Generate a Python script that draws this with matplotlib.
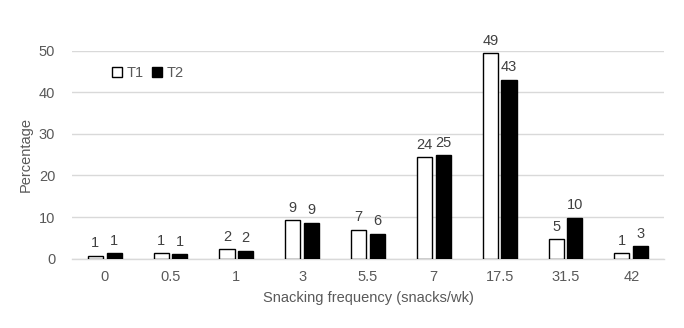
import numpy as np
import matplotlib.pyplot as plt

plt.rcParams.update({
    "font.family": ["Liberation Sans", "DejaVu Sans"],
    "font.size": 10,
})

TEXT = "#595959"
GRID = "#D9D9D9"

categories = ["0", "0.5", "1", "3", "5.5", "7", "17.5", "31.5", "42"]
t1 = [0.7, 1.3, 2.3, 9.2, 7.0, 24.4, 49.4, 4.7, 1.3]
t2 = [1.3, 1.1, 1.9, 8.7, 6.0, 24.9, 43.0, 9.9, 3.0]

x = np.arange(len(categories))
w = 0.23
off = 0.142

fig = plt.figure(figsize=(6.84, 3.28), dpi=100)
ax = fig.add_axes([0.105, 0.211, 0.866, 0.635])

ax.bar(x - off, t1, width=w, color="white", edgecolor="black",
       linewidth=1.0, label="T1", zorder=3)
ax.bar(x + off, t2, width=w, color="black", edgecolor="black",
       linewidth=1.0, label="T2", zorder=3)

for xi, a, b in zip(x, t1, t2):
    ax.text(xi - off, a + 1.3, f"{round(a)}", ha="center", va="bottom",
            fontsize=10.5, color="#404040", clip_on=False)
    ax.text(xi + off, b + 1.3, f"{round(b)}", ha="center", va="bottom",
            fontsize=10.5, color="#404040", clip_on=False)

ax.set_xlim(-0.5, len(categories) - 0.5)
ax.set_ylim(0, 50)
ax.set_yticks(range(0, 51, 10))
ax.set_xticks(x)
ax.set_xticklabels(categories)
ax.tick_params(axis="both", length=0, colors=TEXT, labelsize=10.5)
ax.tick_params(axis="x", pad=8)
ax.tick_params(axis="y", pad=12)

ax.grid(axis="y", color=GRID, linewidth=1.0, zorder=0)
ax.set_axisbelow(True)
for s in ["top", "right", "left"]:
    ax.spines[s].set_visible(False)
ax.spines["bottom"].set_color(GRID)
ax.spines["bottom"].set_linewidth(1.0)

ax.set_ylabel("Percentage", color=TEXT, fontsize=10.5, labelpad=4)
ax.set_xlabel("Snacking frequency (snacks/wk)", color=TEXT, fontsize=10.5,
              labelpad=5)

ax.legend(loc="upper left", bbox_to_anchor=(0.045, 0.99), ncol=2,
          frameon=False, handlelength=0.7, handleheight=0.7,
          handletextpad=0.3, columnspacing=0.6, fontsize=10.5,
          labelcolor=TEXT)

fig.savefig("out.png", dpi=100, facecolor="white")
